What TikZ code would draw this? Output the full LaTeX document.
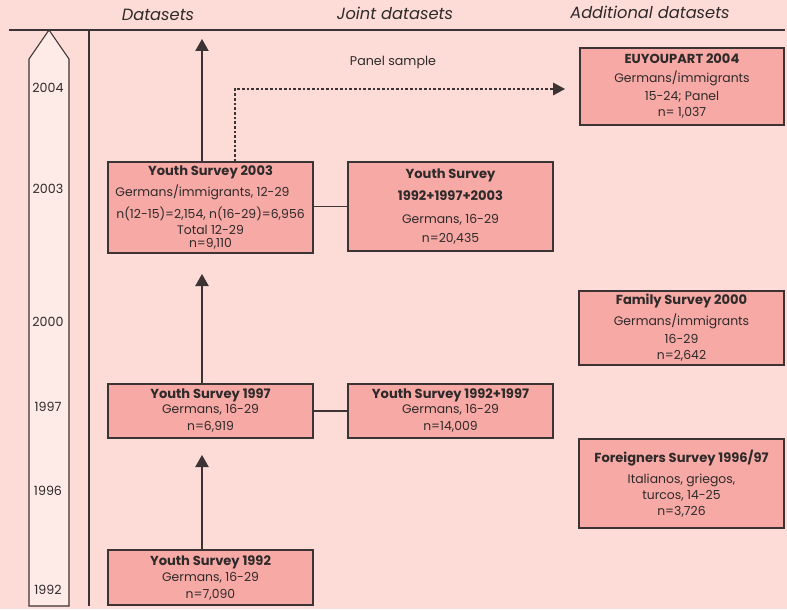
\documentclass[tikz,border=0pt]{standalone}
\usepackage{fontspec}
\setmainfont{Poppins}
\usetikzlibrary{arrows.meta}
\definecolor{bg}{HTML}{FDDCD8}
\definecolor{boxfill}{HTML}{F7A9A5}
\definecolor{tlfill}{HTML}{FEEAE6}
\definecolor{ln}{HTML}{3C3434}
\definecolor{txt}{HTML}{2E2A2A}
\newcommand{\ttl}[1]{{\fontsize{9.8}{11}\selectfont\bfseries #1}}
\begin{document}
\begin{tikzpicture}[x=0.75pt,y=-0.75pt,
  box/.style={draw=ln, line width=0.8pt, fill=boxfill, inner sep=0pt, align=center,
    font=\fontsize{9.3}{11}\selectfont, text=txt, minimum width=153.75pt},
  header/.style={font=\itshape\fontsize{12.2}{14}\selectfont, text=txt},
  yearlbl/.style={font=\fontsize{9.5}{10}\selectfont, text=txt},
  arr/.style={draw=ln, line width=0.8pt, -{Triangle[width=10pt,length=9pt]}},
  darr/.style={draw=ln, line width=0.8pt, dashed, dash pattern=on 2pt off 1.5pt, -{Triangle[width=9.5pt,length=9pt]}},
  plain/.style={draw=ln, line width=0.8pt}]
\fill[bg] (0,0) rectangle (787,609);
\useasboundingbox (0,0) rectangle (787,609);

% headers
\node[header] (hd) at (158,15) {Datasets};
\node[header] (hj) at (395,13) {Joint datasets};
\node[header] (ha) at (650,12) {Additional datasets};
\draw[plain] (9,30) -- (785,30);
\draw[plain] (89,30) -- (89,606);

% timeline arrow
\draw[plain, fill=tlfill, line join=miter] (49,30) -- (69,59) -- (69,606) -- (29,606) -- (29,59) -- cycle;
\node[yearlbl] (t2004) at (48,88) {2004};
\node[yearlbl] (t2003) at (48,189) {2003};
\node[yearlbl] (t2000) at (48,322) {2000};
\node[yearlbl] (t1997) at (48,407) {1997};
\node[yearlbl] (t1996) at (48,491) {1996};
\node[yearlbl] (t1992) at (48,590) {1992};

% boxes
\node[box, minimum height=68.25pt] (y2003) at (210.5,207.5)
  {\ttl{Youth Survey 2003}\\[3.25pt] \hspace*{-12pt}Germans/immigrants, 12-29\\[4pt] n(12-15)=2,154, n(16-29)=6,956\\[1pt] Total 12-29\\[-1.25pt] n=9,110};
\node[box, minimum height=66.75pt] (j2003) at (450.5,206.5)
  {\ttl{Youth Survey}\\[5.5pt] \ttl{1992+1997+2003}\\[6pt] Germans, 16-29\\[3pt] n=20,435};
\node[box, minimum width=153pt, minimum height=57.75pt] (eu) at (682,86.5)
  {\ttl{EUYOUPART 2004}\\[3.25pt] Germans/immigrants\\[2.5pt] 15-24; Panel\\[1pt] n= 1,037};
\node[box, minimum height=55.5pt] (fam) at (681.5,328)
  {\ttl{Family Survey 2000}\\[3.25pt] Germans/immigrants\\[2.5pt] 16-29\\[1pt] n=2,642};
\node[box, minimum height=66.75pt] (for) at (681.5,483.5)
  {\ttl{Foreigners Survey 1996/97}\\[4.75pt] Italianos, griegos,\\[1pt] turcos, 14-25\\[1pt] n=3,726};
\node[box, minimum height=40.5pt] (y1997) at (210.5,411)
  {\ttl{Youth Survey 1997}\\[0.25pt] Germans, 16-29\\[1.75pt] n=6,919};
\node[box, minimum height=40.5pt] (j1997) at (450.5,411)
  {\ttl{Youth Survey 1992+1997}\\[0.25pt] Germans, 16-29\\[1.75pt] n=14,009};
\node[box, minimum height=41.25pt] (y1992) at (210.5,577.5)
  {\ttl{Youth Survey 1992}\\[1pt] Germans, 16-29\\[1.75pt] n=7,090};

\node[yearlbl] (ps) at (393,62) {Panel sample};

% connectors
\coordinate (a1) at (202,39);
\coordinate (a2) at (202,274);
\coordinate (a3) at (202,455);
\draw[arr] (a1 |- y2003.north) -- (a1);
\draw[arr] (a2 |- y1997.north) -- (a2);
\draw[arr] (a3 |- y1992.north) -- (a3);
\coordinate (dc) at (235,89);
\coordinate (dt) at (565,89);
\draw[darr] (dc |- y2003.north) -- (dc) -- (dt);
\draw[plain] (j2003.west -| y2003.east) -- (j2003.west);
\draw[plain] (y1997.east) -- (j1997.west);
\end{tikzpicture}
\end{document}
